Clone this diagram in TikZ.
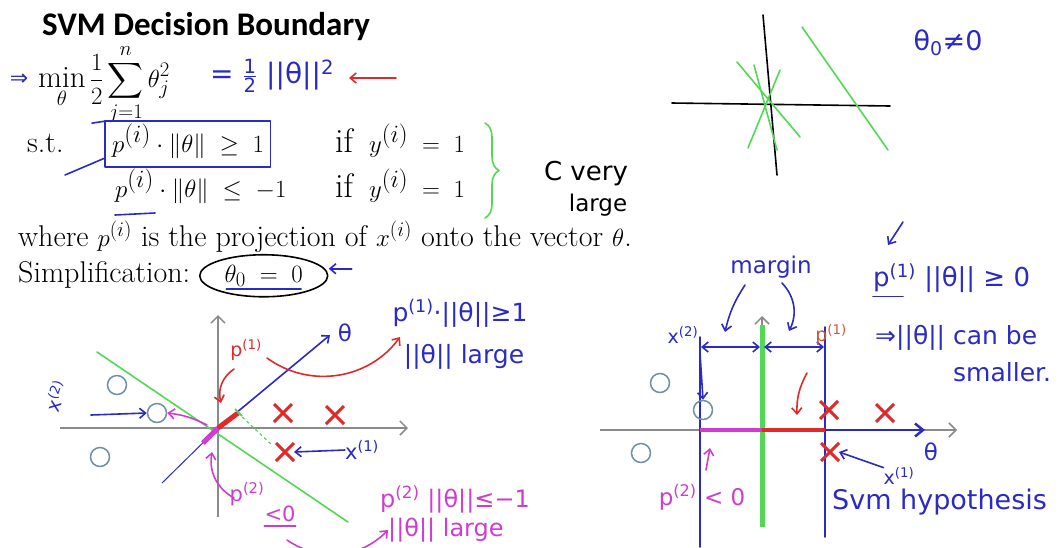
\documentclass[tikz,border=0pt]{standalone}
\usepackage{amsmath}
\usepackage{fontspec}
\newfontfamily\titlefont{Carlito}
\newfontfamily\penfont{DejaVu Sans}
\usetikzlibrary{arrows.meta,decorations.pathreplacing,shapes.misc}
\definecolor{svmBlue}{HTML}{2A2AC4}
\definecolor{svmRed}{HTML}{E02A2A}
\definecolor{svmRust}{HTML}{C8583A}
\definecolor{svmPink}{HTML}{CF3CCF}
\definecolor{svmGreen}{HTML}{52D852}
\definecolor{svmGray}{HTML}{8A8A8A}
\definecolor{svmRing}{HTML}{6E8FA6}
\tikzset{
  svm text/.style={font=\fontsize{30}{36}\selectfont, inner sep=0pt, anchor=base west},
  svm wide text/.style={svm text, font=\fontsize{34}{40}\selectfont},
  svm title/.style={font=\titlefont\bfseries\fontsize{33}{40}\selectfont, inner sep=0pt, anchor=base west},
  svm pen/.style={font=\penfont\fontsize{23}{25}\selectfont, inner sep=0pt},
  svm big pen/.style={font=\penfont\fontsize{25}{27}\selectfont, inner sep=0pt},
  svm small pen/.style={font=\penfont\fontsize{19}{21}\selectfont, inner sep=0pt},
  svm ink/.style={line width=1.6pt, line cap=round, line join=round},
  svm tip/.style={-{Straight Barb[length=6pt,width=10pt]}},
  svm both/.style={{Straight Barb[length=6pt,width=10pt]}-{Straight Barb[length=6pt,width=10pt]}},
  svm axis/.style={draw=svmGray, line width=1.5pt, -{Straight Barb[length=7pt,width=14pt]}},
  svm ring/.style={circle, draw=svmRing, line width=1.5pt, minimum size=19pt, inner sep=0pt},
  svm cross/.style={cross out, draw=svmRed, line width=3pt, minimum size=15pt, inner sep=0pt},
}

\begin{document}
\begin{tikzpicture}[x=1pt,y=-1pt]
  \useasboundingbox (0,0) rectangle (1059,547);

  % slide text
  \node[svm title] (title) at (42,35) {SVM Decision Boundary};
  \node[svm text, font=\fontsize{31}{37}\selectfont] (cost) at (38,87) {$\displaystyle\min_{\theta}\frac{1}{2}\sum_{j=1}^{n}\theta_j^2$};
  \node[svm text] (st) at (27,152) {s.t.};
  \node[svm wide text] (ineq1) at (112,152) {$p^{(i)}\cdot\|\theta\|\;\geq\;1$};
  \node[svm wide text] (if1) at (335,152) {if\, $y^{(i)}\;=\;1$};
  \node[svm wide text] (ineq2) at (115,197) {$p^{(i)}\cdot\|\theta\|\;\leq\;-1$};
  \node[svm wide text] (if2) at (335,197) {if\, $y^{(i)}\;=\;1$};
  \node[svm text] (where) at (18,246) {where $p^{(i)}$ is the projection of $x^{(i)}$ onto the vector $\theta$.};
  \node[svm text] (simp) at (18,282) {Simplification:};
  \node[svm text, font=\fontsize{32}{38}\selectfont] (theta0) at ([xshift=34pt]simp.base east) {$\theta_0\;=\;0$};

  % notes on the cost
  \node[svm pen, text=svmBlue, font=\penfont\fontsize{22}{22}\selectfont] (imp) at (19,80) {⇒};
  \node[svm pen, text=svmBlue, font=\penfont\fontsize{28}{30}\selectfont] (half) at (272,76) {= \(\frac{\text{1}}{\text{2}}\) ||θ||\textsuperscript{2}};
  \coordinate (red from) at (396,78);
  \coordinate (red to) at (349,78);
  \draw[svm ink, svm tip, svmRed] (red from) -- (red to);
  \draw[svm ink, svmBlue] ([shift={(-7pt,-15pt)}]ineq1.base west) rectangle ([shift={(6pt,3pt)}]ineq1.north east);
  \draw[svm ink, svmBlue] ([shift={(-20pt,1pt)}]ineq1.north west) -- ([shift={(-7pt,3pt)}]ineq1.north west);
  \draw[svm ink, svmBlue] ([shift={(-47pt,-23pt)}]ineq1.base west) -- ([shift={(-7pt,-6pt)}]ineq1.base west);
  \draw[svm ink, svmBlue] ([shift={(0pt,-18pt)}]ineq2.base west) -- ([shift={(40pt,-16pt)}]ineq2.base west);
  \draw[svm ink, svmGreen, decorate, decoration={brace, amplitude=14pt}] (485,123) -- (485,218);
  \node[svm pen, font=\penfont\fontsize{26}{28}\selectfont] (cvery) at (586,174) {C very};
  \node[svm pen] (large) at (598,205) {large};
  \draw[svm ink] (theta0.center) ellipse [x radius=64pt, y radius=21pt];
  \draw[svm ink, svmBlue] ([shift={(2pt,-7pt)}]theta0.base west) -- ([shift={(-2pt,-7pt)}]theta0.base east);
  \coordinate (small from) at ([shift={(88pt,7pt)}]theta0.center);
  \coordinate (small to) at ([shift={(65pt,7pt)}]theta0.center);
  \draw[svm ink, svm tip, svmBlue] (small from) -- (small to);

  % boundaries with theta_0 not zero
  \coordinate (tr west) at (672,103);
  \coordinate (tr east) at (890,106);
  \coordinate (tr north) at (763,15);
  \coordinate (tr south) at (777,175);
  \draw[svm ink] (tr west) -- (tr east);
  \draw[svm ink] (tr north) -- (tr south);
  \draw[svm ink, svmGreen] (737,62) -- (800,137);
  \draw[svm ink, svmGreen] (754,65) -- (777,150);
  \draw[svm ink, svmGreen] (780,70) -- (748,148);
  \draw[svm ink, svmGreen] (802,27) -- (888,150);
  \node[svm pen, text=svmBlue, font=\penfont\fontsize{27}{29}\selectfont] (nonzero) at (948,43) {θ\textsubscript{0}≠0};

  % left plot
  \coordinate (l o) at (218,428);
  \coordinate (l xend) at (408,428);
  \coordinate (l xstart) at (60,428);
  \coordinate (l ystart) at (218,517);
  \coordinate (l yend) at (218,315);
  \draw[svm axis] (l xstart) -- (l xend);
  \draw[svm axis] (l ystart) -- (l yend);
  \draw[svm ink, svmGreen] (97,352) -- (348,522);
  \draw[svmBlue, line width=1pt] (162,483) -- (l o);
  \coordinate (l theta) at (330,335);
  \draw[svm ink, svm tip, svmBlue] (l o) -- (l theta);
  \node[svm pen, text=svmBlue] (l thlab) at (345,333) {θ};
  \coordinate (l p1) at (238,413);
  \coordinate (l p2) at (203,443);
  \draw[svmRed, line width=5pt] (l o) -- (l p1);
  \draw[svmPink, line width=5pt] (l o) -- (l p2);
  \draw[svmGreen, line width=2pt] (235,409) -- (242,416);
  \draw[svmGreen, line width=1.2pt, dash pattern=on 3pt off 3pt] (l p1) -- (272,445);
  \node[svm ring] (l c1) at (117,385) {};
  \node[svm ring] (l c2) at (157,413) {};
  \node[svm ring] (l c3) at (100,457) {};
  \node[svm cross] (l x1) at (283,413) {};
  \node[svm cross] (l x2) at (335,415) {};
  \node[svm cross] (l x3) at (285,452) {};
  \node[svm small pen, text=svmBlue, rotate=70] (l xtwo) at (56,396) {x\textsuperscript{(2)}};
  \coordinate (l xtwo tail) at (91,415);
  \draw[svm ink, svm tip, svmBlue] (l xtwo tail) -- (l c2.west);
  \draw[svm ink, svm tip, svmPink] (207,425) to[bend right=10] (l c2.east);
  \node[svm small pen, text=svmRed] (l pone) at (246,350) {p\textsuperscript{(1)}};
  \draw[svm ink, svm tip, svmRed] (234,369) to[bend right=35] (221,403);
  \coordinate (l big to) at (400,337);
  \draw[svm ink, svm tip, svmRed] (267,358) to[bend right=45] (l big to);
  \node[svm pen, text=svmBlue, font=\penfont\fontsize{25}{27}\selectfont] (l geq) at (460,313) {p\textsuperscript{(1)}·||θ||≥1};
  \node[svm pen, text=svmBlue, font=\penfont\fontsize{25}{27}\selectfont] (l large) at (464,357) {||θ|| large};
  \node[svm small pen, text=svmBlue, font=\penfont\fontsize{21}{23}\selectfont] (l xone) at (362,450) {x\textsuperscript{(1)}};
  \draw[svm ink, svm tip, svmBlue] (l xone.west) -- (l x3.east);
  \node[svm small pen, text=svmPink, font=\penfont\fontsize{21}{23}\selectfont] (l ptwo) at (247,494) {p\textsuperscript{(2)}};
  \node[svm small pen, text=svmPink, font=\penfont\fontsize{21}{23}\selectfont] (l lz) at (280,514) {<0};
  \draw[svm ink, svmPink] ([yshift=-4pt]l lz.south west) -- ([yshift=-4pt]l lz.south east);
  \draw[svm ink, svm tip, svmPink] (234,498) to[bend left=35] (212,452);
  \node[svm pen, text=svmPink, anchor=west, font=\penfont\fontsize{24}{26}\selectfont] (l leq) at (380,499) {p\textsuperscript{(2)} ||θ||≤−1};
  \node[svm small pen, text=svmPink, anchor=west, font=\penfont\fontsize{24}{26}\selectfont] (l large2) at (388,530) {||θ|| large};
  \draw[svm ink, svm tip, svmPink] (287,540) to[bend right=40] (l large2.west);

  % right plot
  \coordinate (r o) at (762,430);
  \coordinate (r xstart) at (600,430);
  \coordinate (r xend) at (957,430);
  \coordinate (r ystart) at (762,525);
  \coordinate (r yend) at (762,316);
  \draw[svm axis] (r xstart) -- (r xend);
  \draw[svm axis] (r ystart) -- (r yend);
  \draw[svmGreen, line width=5pt] (762,325) -- (762,527);
  \coordinate (r left top) at (700,337);
  \coordinate (r left bot) at (700,547);
  \coordinate (r right top) at (825,327);
  \coordinate (r right bot) at (825,537);
  \draw[svm ink, svmBlue] (r left top) -- (r left bot);
  \draw[svm ink, svmBlue] (r right top) -- (r right bot);
  \draw[svmPink, line width=4pt] (700,430) -- (r o);
  \draw[svmRed, line width=4pt] (r o) -- (825,430);
  \coordinate (r theta) at (925,430);
  \draw[svmBlue, line width=2.5pt, -{Straight Barb[length=8pt,width=13pt]}] (825,430) -- (r theta);
  \node[svm pen, text=svmBlue] (r thlab) at (931,452) {θ};
  \draw[svm ink, svm both, svmBlue] (701,347) -- (760,347);
  \draw[svm ink, svm both, svmBlue] (764,347) -- (824,347);
  \node[svm pen, text=svmBlue] (margin) at (771,267) {margin};
  \draw[svm ink, svm tip, svmBlue] (745,285) to[bend right=10] (725,332);
  \draw[svm ink, svm tip, svmBlue] (782,283) to[bend left=35] (789,331);
  \node[svm ring] (r c1) at (660,383) {};
  \node[svm ring] (r c2) at (703,410) {};
  \node[svm ring] (r c3) at (641,453) {};
  \node[svm cross] (r x1) at (829,410) {};
  \node[svm cross] (r x2) at (885,413) {};
  \node[svm cross] (r x3) at (830,452) {};
  \node[svm small pen, text=svmBlue] (r xtwo) at (683,335) {x\textsuperscript{(2)}};
  \draw[svm ink, svm tip, svmBlue] (700,353) -- (r c2.north);
  \node[svm small pen, text=svmRust] (r pone) at (831,335) {p\textsuperscript{(1)}};
  \draw[svm ink, svm tip, svmRed] (807,373) to[bend right=15] (797,415);
  \node[svm small pen, text=svmBlue] (r xone) at (899,476) {x\textsuperscript{(1)}};
  \draw[svm ink, svm tip, svmBlue] (r xone.north west) -- (r x3.east);
  \node[svm pen, text=svmPink] (r ptwo) at (702,497) {p\textsuperscript{(2)} < 0};
  \draw[svm ink, svm tip, svmPink] (706,470) -- (710,448);
  \node[svm big pen, text=svmBlue, anchor=west, font=\penfont\fontsize{27}{29}\selectfont] (hyp) at (832,502) {Svm hypothesis};

  % notes on the right
  \coordinate (down from) at (903,222);
  \coordinate (down to) at (888,245);
  \draw[svm ink, svm tip, svmBlue] (down from) -- (down to);
  \node[svm big pen, text=svmBlue, anchor=west, font=\penfont\fontsize{26}{28}\selectfont] (pnorm) at (873,278) {p\textsuperscript{(1)} ||θ|| ≥ 0};
  \draw[svm ink, svmBlue] ([yshift=-4pt]pnorm.south west) -- ++(30,0);
  \node[svm big pen, text=svmBlue, anchor=west] (canbe) at (875,338) {⇒||θ|| can be};
  \node[svm big pen, text=svmBlue, anchor=west] (smaller) at (953,372) {smaller.};
\end{tikzpicture}
\end{document}
